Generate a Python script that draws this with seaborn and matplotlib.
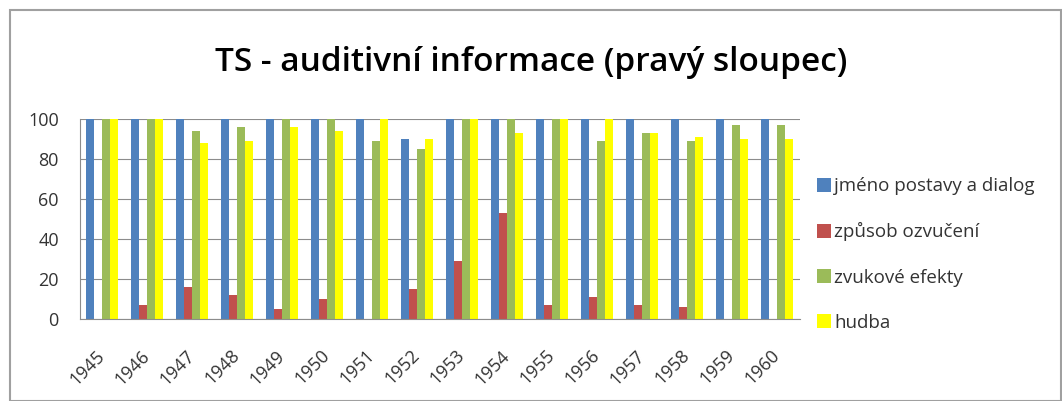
import numpy as np
import pandas as pd
import seaborn as sns
import matplotlib.pyplot as plt
from matplotlib.patches import Rectangle
from matplotlib.transforms import ScaledTranslation

# data
years = [str(y) for y in range(1945, 1961)]
jmeno = [100, 100, 100, 100, 100, 100, 100, 90, 100, 100, 100, 100, 100, 100, 100, 100]
zpusob = [0, 7, 16, 12, 5, 10, 0, 15, 29, 53, 7, 11, 7, 6, 0, 0]
efekty = [100, 100, 94, 96, 100, 100, 89, 85, 100, 100, 100, 89, 93, 89, 97, 97]
hudba = [100, 100, 88, 89, 96, 94, 100, 90, 100, 93, 100, 100, 93, 91, 90, 90]

series = ['jméno postavy a dialog', 'způsob ozvučení', 'zvukové efekty', 'hudba']
colors = ['#4F81BD', '#C0504D', '#9BBB59', '#FFFF00']

df = pd.DataFrame({'rok': years, series[0]: jmeno, series[1]: zpusob,
                   series[2]: efekty, series[3]: hudba})
long = df.melt(id_vars='rok', var_name='serie', value_name='hodnota')

sns.set_style('white')
plt.rcParams['font.family'] = ['Open Sans', 'DejaVu Sans']

fig = plt.figure(figsize=(10.62, 4.01), dpi=100)
ax = fig.add_axes([0.075, 0.205, 0.678, 0.498])

sns.barplot(data=long, x='rok', y='hodnota', hue='serie', palette=colors,
            width=0.72, ax=ax, saturation=1, errorbar=None, legend=True,
            linewidth=0)

ax.set_ylim(0, 100)
ax.set_yticks([0, 20, 40, 60, 80, 100])
ax.set_xlim(-0.5, len(years) - 0.5)
ax.yaxis.grid(True, color='#8C8C8C', linewidth=0.8)
ax.set_axisbelow(True)
ax.set_xlabel('')
ax.set_ylabel('')
for s in ['top', 'right']:
    ax.spines[s].set_visible(False)
ax.spines['left'].set_color('#8C8C8C')
ax.spines['bottom'].set_color('#8C8C8C')
ax.tick_params(axis='y', labelsize=13, colors='#333333', length=0, pad=15)
ax.tick_params(axis='x', labelsize=13, colors='#333333', length=0, pad=20)
plt.setp(ax.get_xticklabels(), rotation=45, ha='right', rotation_mode='anchor')
shift = ScaledTranslation(-5 / 72, 0, fig.dpi_scale_trans)
for lbl in ax.get_xticklabels():
    lbl.set_transform(lbl.get_transform() + shift)

leg = ax.legend(loc='center left', bbox_to_anchor=(1.0, 0.322), frameon=False,
                fontsize=13.5, handlelength=0.75, handleheight=0.75,
                handletextpad=0.2, labelspacing=1.45, labelcolor='#333333')

fig.suptitle('TS - auditivní informace (pravý sloupec)', fontsize=24,
             fontweight='semibold', y=0.885, x=0.5, color='black')

# outer chart frame
fig.patches.append(Rectangle((0.009, 0.0), 0.99, 0.975, transform=fig.transFigure,
                             fill=False, edgecolor='#A0A0A0', linewidth=1.5))

fig.savefig('out.png', dpi=100)
